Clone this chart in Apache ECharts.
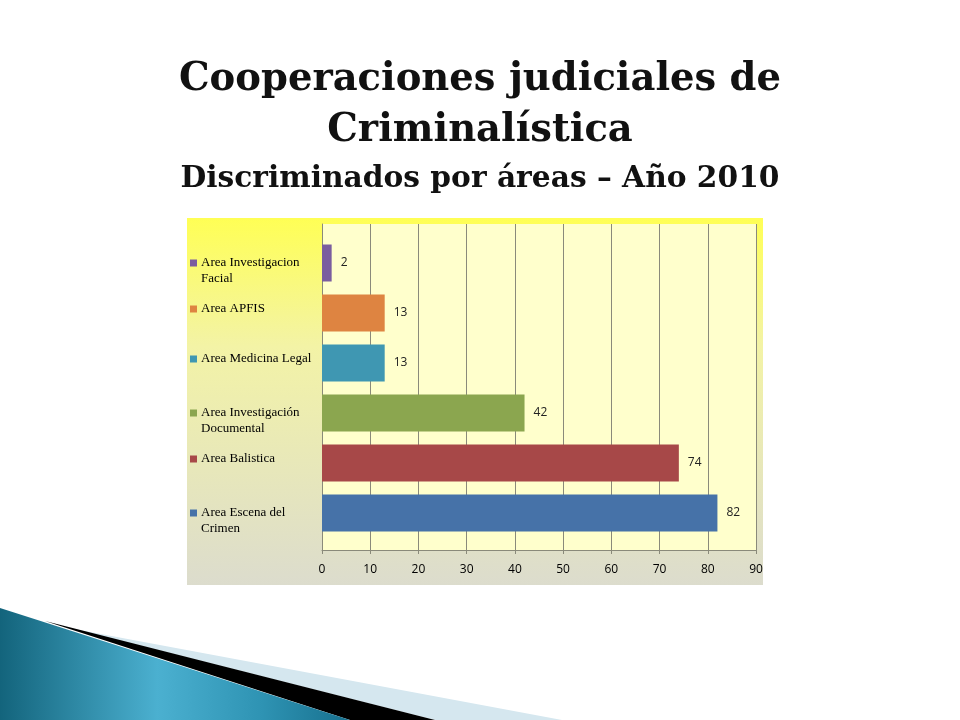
<!DOCTYPE html>
<html>
<head>
<meta charset="utf-8">
<script src="https://cdn.jsdelivr.net/npm/echarts@6/dist/echarts.min.js"></script>
<style>
  html, body { margin: 0; padding: 0; background: #ffffff; }
  #chart { width: 960px; height: 720px; }
</style>
</head>
<body>
<div id="chart"></div>
<script>
// ---- data ----
var titleLines = ["Cooperaciones judiciales de", "Criminalística"];
var subtitle = "Discriminados por áreas – Año 2010";
var categories = [
  "Area Investigacion\nFacial",
  "Area APFIS",
  "Area Medicina Legal",
  "Area Investigación\nDocumental",
  "Area Balistica",
  "Area Escena del\nCrimen"
];
var values = [2, 13, 13, 42, 74, 82];
var xTicks = [0, 10, 20, 30, 40, 50, 60, 70, 80, 90];

// ---- styles ----
var barColors = ["#7a5d9f", "#de8441", "#3f97b2", "#8ba64f", "#a74848", "#4672a8"];

var rich = {
  t: { fontFamily: "Liberation Serif", fontSize: 13, color: "#000", lineHeight: 16 },
  g: { width: 4, height: 7 },
  sp: { width: 11, height: 7, lineHeight: 16 },
  h: { height: 8, lineHeight: 8, width: 1 }
};
barColors.forEach(function (c, i) {
  rich["sq" + i] = { width: 7, height: 7, backgroundColor: c };
});

var chart = echarts.init(document.getElementById("chart"), null, { renderer: "canvas", width: 960, height: 720 });

var titleStyle = { fontFamily: "DejaVu Serif", fontWeight: "bold", color: "#111" };

var option = {
  backgroundColor: "#ffffff",
  animation: false,
  title: [
    {
      text: titleLines[0], left: "center", top: 52,
      textStyle: Object.assign({ fontSize: 38.5, lineHeight: 46 }, titleStyle)
    },
    {
      text: titleLines[1], left: "center", top: 103,
      textStyle: Object.assign({ fontSize: 38.5, lineHeight: 46 }, titleStyle)
    },
    {
      text: subtitle, left: "center", top: 156,
      textStyle: Object.assign({ fontSize: 29.7, lineHeight: 36 }, titleStyle)
    }
  ],
  graphic: {
    elements: [
      {
        type: "rect", z: -100,
        shape: { x: 187, y: 218, width: 576, height: 367 },
        style: {
          fill: new echarts.graphic.LinearGradient(0, 0, 0, 1, [
            { offset: 0, color: "#ffff55" },
            { offset: 0.35, color: "#f3f3a6" },
            { offset: 1, color: "#dcdccd" }
          ])
        }
      },
      {
        type: "polygon", z: -90,
        shape: { points: [[74, 629], [562, 720], [435, 720]] },
        style: { fill: "#d5e7ef" }
      },
      {
        type: "polygon", z: -89,
        shape: { points: [[45, 621], [435, 720], [350, 720]] },
        style: { fill: "#000000" }
      },
      {
        type: "polygon", z: -88,
        shape: { points: [[0, 608], [350, 720], [0, 720]] },
        style: {
          fill: new echarts.graphic.LinearGradient(0, 0, 1, 0, [
            { offset: 0, color: "#13647c" },
            { offset: 0.45, color: "#4bb0d0" },
            { offset: 0.75, color: "#2e93b3" },
            { offset: 1, color: "#17708e" }
          ])
        }
      }
    ]
  },
  grid: [
    { left: 322, top: 224, width: 434, height: 326, show: true, backgroundColor: "#ffffcc", borderWidth: 0 },
    { left: 322, top: 238, width: 434, height: 300 }
  ],
  xAxis: [
    {
      gridIndex: 0, type: "value", min: xTicks[0], max: xTicks[xTicks.length - 1], interval: 10,
      axisLine: { show: true, lineStyle: { color: "#8a8a7a", width: 1 } },
      axisTick: { show: true, length: 4, lineStyle: { color: "#8a8a7a" } },
      splitLine: { show: true, lineStyle: { color: "#8a8a7a", width: 1 } },
      axisLabel: { color: "#000", fontFamily: "Open Sans", fontSize: 12, margin: 14 }
    },
    {
      gridIndex: 1, type: "value", min: xTicks[0], max: xTicks[xTicks.length - 1], interval: 10,
      show: false
    }
  ],
  yAxis: [
    {
      gridIndex: 0, type: "value", min: 0, max: 1,
      axisLine: { show: true, lineStyle: { color: "#8a8a7a", width: 1 } },
      axisTick: { show: false }, axisLabel: { show: false }, splitLine: { show: false }
    },
    {
      gridIndex: 1, type: "category", data: categories, inverse: true,
      axisLine: { show: false }, axisTick: { show: false }, splitLine: { show: false },
      axisLabel: {
        align: "left",
        verticalAlign: "middle",
        margin: 132,
        rich: rich,
        formatter: function (val, idx) {
          var parts = val.split("\n");
          if (parts.length > 1) {
            return "{sp|}\n{sq" + idx + "|}{g|}{t|" + parts[0] + "}\n{sp|}{t|" + parts[1] + "}";
          }
          return "{sq" + idx + "|}{g|}{t|" + parts[0] + "}\n{h|}";
        }
      }
    }
  ],
  series: [
    {
      type: "bar",
      xAxisIndex: 1,
      yAxisIndex: 1,
      barWidth: 37,
      data: values.map(function (v, i) {
        return { value: v, itemStyle: { color: barColors[i] } };
      }),
      label: {
        show: true, position: "right", distance: 9,
        color: "#222", fontFamily: "Open Sans", fontSize: 12
      }
    }
  ]
};
chart.setOption(option);
</script>
</body>
</html>
